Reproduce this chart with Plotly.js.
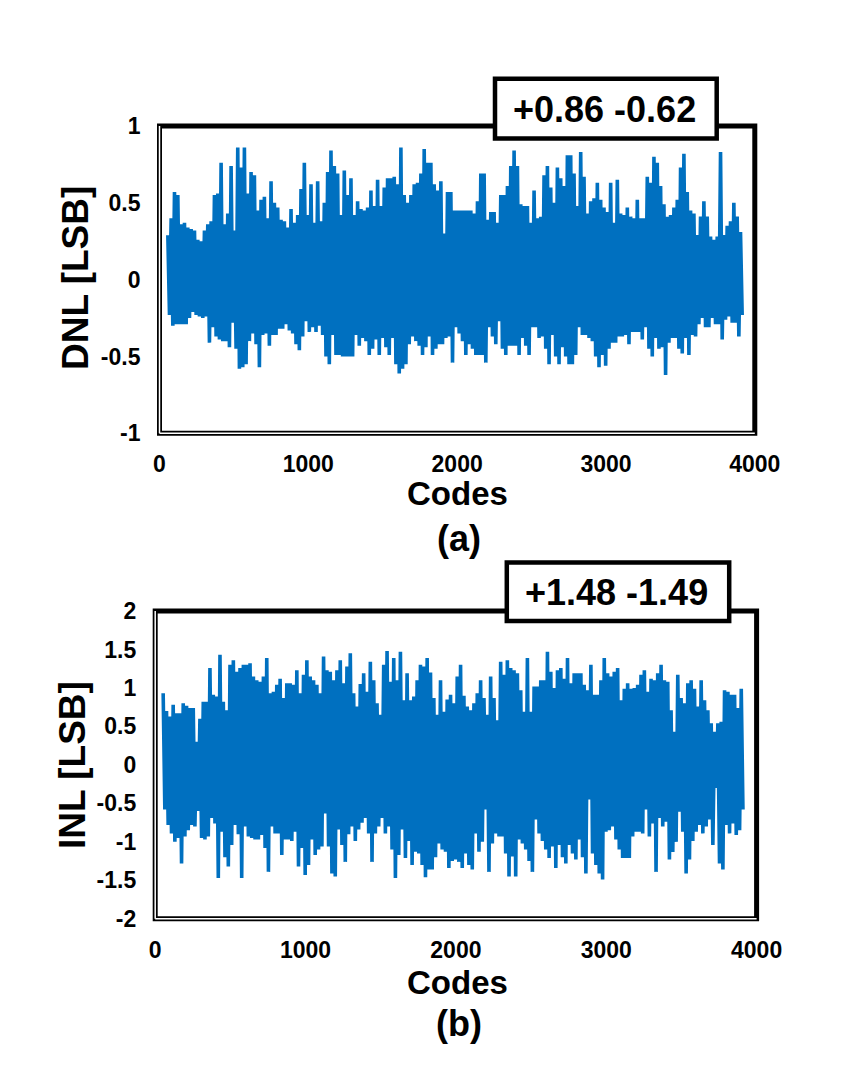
<!DOCTYPE html>
<html>
<head>
<meta charset="utf-8">
<script src="https://cdn.plot.ly/plotly-3.0.1.min.js"></script>
<style>
  html, body { margin: 0; padding: 0; background: #fff; }
  #chart { width: 841px; height: 1065px; }
</style>
</head>
<body>
<div id="chart"></div>
<script>
// ── Data (upper / lower swing of each short run of codes) ──
const dnlFirstCode = 56, dnlLastCode = 3904;
const dnlHigh = [
  0.29,0.40,0.57,0.55,0.36,0.37,0.34,0.33,0.32,0.26, 0.25,0.32,0.36,0.38,0.55,0.56,0.76,0.36,0.43,0.74,
  0.32,0.86,0.73,0.86,0.56,0.70,0.68,0.45,0.52,0.54, 0.40,0.64,0.50,0.47,0.39,0.38,0.34,0.46,0.37,0.42,
  0.59,0.76,0.42,0.62,0.37,0.64,0.38,0.50,0.70,0.84, 0.74,0.69,0.42,0.71,0.55,0.66,0.42,0.51,
  0.46,0.45,0.47,0.58,0.48,0.65,0.48,0.60,0.66,0.66, 0.67,0.62,0.86,0.55,0.50,0.55,0.62,0.63,0.69,0.85,
  0.76,0.76,0.62,0.58,0.64,0.30,0.57,0.57,0.45,0.45, 0.45,0.45,0.45,0.45,0.43,0.51,0.69,0.69,0.39,0.44,
  0.44,0.37,0.55,0.55,0.61,0.74,0.84,0.74,0.49,0.48, 0.48,0.37,0.58,0.40,0.41,0.68,0.74,0.60,0.50,
  0.73,0.66,0.61,0.81,0.81,0.69,0.48,0.83,0.67,0.43, 0.51,0.53,0.63,0.52,0.47,0.44,0.63,0.37,0.65,0.43,
  0.42,0.47,0.41,0.40,0.52,0.40,0.40,0.67,0.63,0.80, 0.76,0.61,0.49,0.41,0.42,0.47,0.52,0.73,0.82,0.57,
  0.45,0.43,0.29,0.41,0.51,0.41,0.28,0.26,0.28,0.83, 0.29,0.35,0.38,0.50,0.41,0.31
];
const dnlLow = [
  -0.23,-0.30,-0.29,-0.29,-0.29,-0.29,-0.25,-0.21,-0.23,-0.24, -0.25,-0.24,-0.41,-0.31,-0.37,-0.39,-0.40,-0.40,-0.44,-0.28,
  -0.45,-0.58,-0.57,-0.55,-0.40,-0.35,-0.42,-0.57,-0.36,-0.35, -0.43,-0.36,-0.36,-0.32,-0.32,-0.29,-0.33,-0.35,-0.42,-0.46,
  -0.37,-0.27,-0.34,-0.31,-0.34,-0.30,-0.36,-0.50,-0.55,-0.36, -0.49,-0.49,-0.50,-0.50,-0.50,-0.50,-0.36,-0.43,
  -0.38,-0.40,-0.49,-0.45,-0.39,-0.49,-0.38,-0.44,-0.49,-0.38, -0.55,-0.61,-0.58,-0.55,-0.42,-0.37,-0.40,-0.43,-0.49,-0.44,
  -0.37,-0.49,-0.45,-0.42,-0.42,-0.38,-0.37,-0.54,-0.31,-0.35, -0.40,-0.49,-0.42,-0.45,-0.49,-0.49,-0.49,-0.54,-0.31,-0.37,
  -0.42,-0.27,-0.45,-0.49,-0.43,-0.43,-0.43,-0.49,-0.38,-0.43, -0.49,-0.31,-0.31,-0.38,-0.37,-0.45,-0.55,-0.36,-0.50,
  -0.55,-0.44,-0.50,-0.55,-0.55,-0.49,-0.31,-0.36,-0.36,-0.38, -0.40,-0.50,-0.57,-0.49,-0.56,-0.45,-0.41,-0.41,-0.37,-0.37,
  -0.36,-0.42,-0.34,-0.34,-0.34,-0.39,-0.31,-0.45,-0.50,-0.38, -0.45,-0.44,-0.62,-0.41,-0.38,-0.38,-0.45,-0.48,-0.38,-0.49,
  -0.36,-0.37,-0.29,-0.25,-0.31,-0.31,-0.25,-0.29,-0.29,-0.39, -0.26,-0.24,-0.28,-0.28,-0.37,-0.23
];

const inlFirstCode = 53, inlLastCode = 3898;
const inlHigh = [
  0.93,0.70,0.63,0.78,0.67,0.67,0.80,0.77,0.74,0.74, 0.30,0.60,0.82,0.82,1.26,0.91,0.89,1.43,0.82,0.71,
  1.30,1.36,1.21,1.26,1.30,1.30,1.32,1.15,1.10,1.08, 1.15,1.39,0.93,0.95,1.04,1.12,0.87,1.06,1.06,1.04,
  1.23,0.93,1.17,1.36,1.15,1.10,1.04,0.93,1.41,1.23, 1.21,1.10,1.23,1.36,1.06,1.28,1.45,0.93,0.76,
  1.05,1.19,0.95,1.34,1.10,0.80,0.65,1.30,1.48,1.08, 1.39,1.10,1.47,0.84,1.19,0.84,0.89,1.10,1.30,1.28,
  1.39,1.20,0.87,0.65,1.10,0.69,0.85,0.91,0.80,1.15, 1.30,0.90,0.76,0.71,0.80,0.93,1.10,0.87,0.65,1.15,
  0.87,0.58,1.34,1.17,1.36,1.26,1.23,1.19,0.97,0.69, 1.39,0.69,1.02,1.02,1.10,1.10,1.47,1.21,1.00,
  1.23,1.26,1.12,1.39,1.06,1.19,1.19,1.19,1.04,0.97, 1.30,0.91,0.91,1.10,1.39,1.19,1.15,1.21,1.26,0.84,
  0.99,1.06,0.99,1.00,1.04,1.17,1.23,0.95,1.12,1.10, 1.19,1.30,1.10,1.08,0.71,0.43,1.17,0.87,0.80,1.06,
  1.10,0.99,0.76,1.10,0.84,0.71,0.54,0.43,0.54,0.56, 0.97,0.95,0.91,0.91,0.74,0.99
];
const inlLow = [
  -0.58,-0.78,-0.89,-1.00,-0.95,-1.28,-0.93,-0.85,-0.78,-0.80, -0.60,-0.95,-0.97,-0.93,-0.69,-0.76,-1.47,-0.87,-1.20,-1.32,
  -1.04,-0.78,-0.90,-1.47,-0.80,-0.93,-0.95,-0.97,-0.97,-0.91, -1.08,-1.39,-0.80,-0.89,-0.89,-1.17,-0.97,-0.97,-0.99,-0.87,
  -1.32,-1.08,-1.43,-1.30,-0.97,-1.17,-1.10,-1.06,-0.63,-1.06, -1.41,-1.45,-0.84,-1.04,-1.26,-0.90,-0.80,-0.99,-0.84,
  -0.75,-0.69,-0.89,-1.26,-0.89,-0.80,-0.69,-0.89,-0.80,-1.10, -1.47,-1.17,-0.84,-1.21,-0.99,-1.30,-1.13,-1.15,-1.30,-1.46,
  -1.36,-1.36,-1.20,-1.02,-1.10,-1.13,-1.34,-1.25,-1.23,-1.26, -1.34,-1.15,-1.30,-1.36,-0.89,-1.13,-1.00,-0.58,-1.39,-1.02,
  -0.89,-0.93,-0.93,-1.15,-1.45,-1.19,-1.45,-0.97,-1.02,-1.10, -1.25,-1.39,-0.71,-0.89,-0.99,-1.10,-1.21,-1.06,-1.34,
  -1.04,-1.20,-1.28,-1.04,-1.15,-1.23,-0.97,-1.20,-1.41,-0.45, -1.15,-1.30,-1.41,-1.49,-0.87,-0.85,-0.80,-0.97,-1.10,-1.21,
  -1.21,-1.21,-0.93,-0.87,-0.87,-0.89,-0.58,-0.93,-0.76,-1.39, -0.69,-0.80,-0.74,-1.23,-1.13,-1.00,-0.61,-0.87,-1.41,-1.23,
  -0.99,-0.87,-0.78,-0.89,-0.80,-0.71,-1.04,-0.30,-1.28,-1.36, -0.78,-0.89,-0.76,-0.91,-0.85,-0.58
];

const codeTicks = [0, 1000, 2000, 3000, 4000];
const dnlTicks = [-1, -0.5, 0, 0.5, 1];
const inlTicks = [-2, -1.5, -1, -0.5, 0, 0.5, 1, 1.5, 2];
const dnlBoxText = '+0.86 -0.62';
const inlBoxText = '+1.48 -1.49';

// ── Helpers ──────────────────────────────────────────────────────────────
const W = 841, H = 1065;
const px = x => x / W;            // pixel → paper x
const py = y => 1 - y / H;        // pixel → paper y
const FONT = 'Liberation Sans, Arial, sans-serif';
const BLUE = '#0070C0';

// alternate the high and low swing of each run so the line fills the band
function swing(high, low, first, last) {
    const step = (last - first) / (high.length - 1);
    const x = [], y = [];
    for (let i = 0; i < high.length; i++) {
        x.push(first + i * step, first + (i + 0.5) * step);
        y.push(high[i], low[i]);
    }
    return { x, y };
}
const fmt = v => String(v);

const dnl = swing(dnlHigh, dnlLow, dnlFirstCode, dnlLastCode);
const inl = swing(inlHigh, inlLow, inlFirstCode, inlLastCode);

const traces = [
    { type: 'scatter', mode: 'lines', x: dnl.x, y: dnl.y, xaxis: 'x', yaxis: 'y',
      line: { color: BLUE, width: 3.6 }, hoverinfo: 'skip' },
    { type: 'scatter', mode: 'lines', x: inl.x, y: inl.y, xaxis: 'x2', yaxis: 'y2',
      line: { color: BLUE, width: 3.6 }, hoverinfo: 'skip' }
];

const tickFont = { family: FONT, size: 23, color: '#000', weight: 700 };
const xAxisBase = {
    range: [0, 4000], tickvals: codeTicks, ticktext: codeTicks.map(fmt),
    showgrid: false, zeroline: false, showline: false, ticks: '',
    tickfont: tickFont, ticklabelstandoff: 15, fixedrange: true
};
const yAxisBase = {
    showgrid: false, zeroline: false, showline: false, ticks: '',
    tickfont: tickFont, ticklabelstandoff: 18, fixedrange: true
};

// frame: thick black box, left/bottom edges split into a double line
const frame = (xr, yr) => [
    { type: 'rect', xref: xr + ' domain', yref: yr + ' domain', x0: 0, x1: 1, y0: 0, y1: 1,
      line: { color: '#000', width: 5 }, layer: 'above' },
    { type: 'line', xref: xr + ' domain', yref: yr + ' domain', x0: 0, x1: 0, y0: 0, y1: 1,
      line: { color: '#fff', width: 1.5 }, layer: 'above' },
    { type: 'line', xref: xr + ' domain', yref: yr + ' domain', x0: 0, x1: 1, y0: 0, y1: 0,
      line: { color: '#fff', width: 1.5 }, layer: 'above' }
];
const valueBox = (x0, x1, y0, y1) => ({
    type: 'rect', xref: 'paper', yref: 'paper', x0: px(x0), x1: px(x1), y0: py(y1), y1: py(y0),
    fillcolor: '#fff', line: { color: '#000', width: 4.5 }, layer: 'above'
});
const label = (text, x, y, size, angle) => ({
    text, xref: 'paper', yref: 'paper', x: px(x), y: py(y), xanchor: 'center', yanchor: 'middle',
    showarrow: false, textangle: angle || 0,
    font: { family: FONT, size, color: '#000', weight: 700 }
});

const layout = {
    width: W, height: H,
    margin: { l: 0, r: 0, t: 0, b: 0 },
    paper_bgcolor: '#fff', plot_bgcolor: '#fff',
    showlegend: false,
    xaxis:  Object.assign({}, xAxisBase, { domain: [px(159.5), px(754.8)], anchor: 'y' }),
    yaxis:  Object.assign({}, yAxisBase, { domain: [py(433.3), py(126)], anchor: 'x',
             range: [-1, 1], tickvals: dnlTicks, ticktext: dnlTicks.map(fmt) }),
    xaxis2: Object.assign({}, xAxisBase, { domain: [px(155.2), px(756.6)], anchor: 'y2' }),
    yaxis2: Object.assign({}, yAxisBase, { domain: [py(918.8), py(611)], anchor: 'x2',
             range: [-2, 2], tickvals: inlTicks, ticktext: inlTicks.map(fmt) }),
    shapes: [
        ...frame('x', 'y'), ...frame('x2', 'y2'),
        valueBox(495, 716.7, 78.8, 138.5),
        valueBox(506.8, 729.2, 562.5, 621)
    ],
    annotations: [
        label(dnlBoxText, 604.5, 109, 36),
        label(inlBoxText, 616, 592, 36),
        label('DNL [LSB]', 76, 278, 37, -90),
        label('INL [LSB]', 72, 765, 37, -90),
        label('Codes', 457, 493, 33),
        label('Codes', 457, 982, 33),
        label('(a)', 459, 538, 36),
        label('(b)', 459, 1023, 36)
    ]
};

Plotly.newPlot('chart', traces, layout, { staticPlot: true, displayModeBar: false });
</script>
</body>
</html>
